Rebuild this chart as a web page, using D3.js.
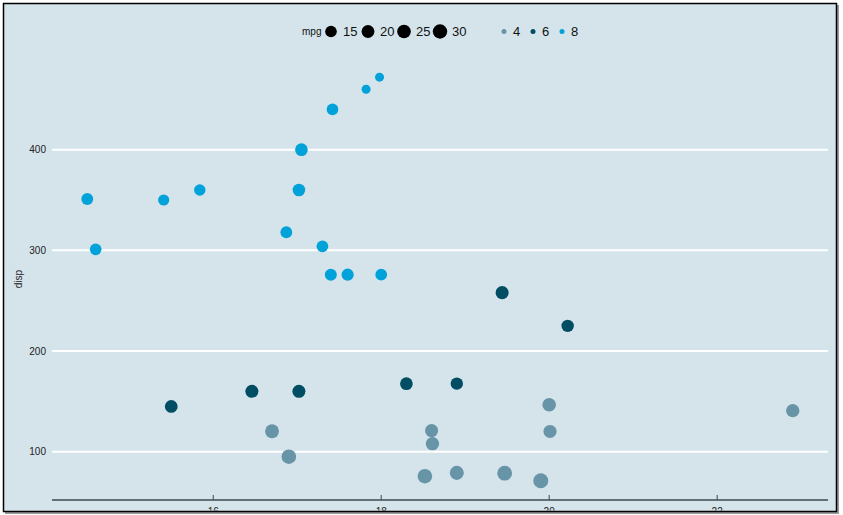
<!DOCTYPE html>
<html><head><meta charset="utf-8">
<script src="https://cdn.jsdelivr.net/npm/d3@7"></script>
<style>body{margin:0;background:#fff;}svg{display:block;font-family:"Liberation Sans",Arial,sans-serif;}</style>
</head><body>
<svg id="c" width="843" height="515"></svg>
<script>
const qsec = [16.46,17.02,18.61,19.44,17.02,20.22,15.84,20.00,22.90,18.30,18.90,17.40,17.60,18.00,17.98,17.82,17.42,19.47,18.52,19.90,20.01,16.87,17.30,15.41,17.05,18.90,16.70,16.90,14.50,15.50,14.60,18.60];
const disp = [160,160,108,258,360,225,360,146.7,140.8,167.6,167.6,275.8,275.8,275.8,472,460,440,78.7,75.7,71.1,120.1,318,304,350,400,79,120.3,95.1,351,145,301,121];
const mpg  = [21.0,21.0,22.8,21.4,18.7,18.1,14.3,24.4,22.8,19.2,17.8,16.4,17.3,15.2,10.4,10.4,14.7,32.4,30.4,33.9,21.5,15.5,15.2,13.3,19.2,27.3,26.0,30.4,15.8,19.7,15.0,21.4];
const cyl  = [6,6,4,6,8,6,8,4,4,6,6,8,8,8,8,8,8,4,4,4,4,8,8,8,8,4,4,4,8,6,8,4];
const xTicks = [16,18,20,22];
const yTicks = [100,200,300,400];
const mpgBreaks = [15,20,25,30];
const cylLevels = [4,6,8];
const cylColors = ["#6794a7","#014d64","#01a2d9"];

const svg = d3.select("#c");
svg.append("rect").attr("x",5).attr("y",5).attr("width",834).attr("height",509).attr("fill","#9a9a9a");
svg.append("rect").attr("x",3.5).attr("y",3.5).attr("width",833).attr("height",508).attr("fill","#d5e4eb").attr("stroke","#000").attr("stroke-width",1.5);
svg.append("clipPath").attr("id","cl").append("rect").attr("x",4.5).attr("y",4.5).attr("width",831).attr("height",506);
const g = svg.append("g").attr("clip-path","url(#cl)");

const xmin=d3.min(qsec), xmax=d3.max(qsec), ymin=d3.min(disp), ymax=d3.max(disp);
const xs = d3.scaleLinear().domain([xmin-0.05*(xmax-xmin), xmax+0.05*(xmax-xmin)]).range([52,828]);
const ys = d3.scaleLinear().domain([ymin-0.05*(ymax-ymin), ymax+0.05*(ymax-ymin)]).range([501,57]);
const mmin=d3.min(mpg), mmax=d3.max(mpg);
const rs = v => 4.5 + 3*Math.sqrt((v-mmin)/(mmax-mmin));
const cs = d3.scaleOrdinal().domain(cylLevels).range(cylColors);

g.selectAll("line.grid").data(yTicks).enter().append("line")
 .attr("x1",52).attr("x2",828).attr("y1",d=>ys(d)).attr("y2",d=>ys(d))
 .attr("stroke","#fff").attr("stroke-width",2);
g.selectAll("text.yl").data(yTicks).enter().append("text")
 .attr("x",46).attr("y",d=>ys(d)).attr("dy","0.35em").attr("text-anchor","end")
 .attr("font-size",10).attr("fill","#222").text(d=>d);
g.append("text").attr("transform","translate(22,279) rotate(-90)").attr("text-anchor","middle")
 .attr("font-size",10).attr("fill","#222").text("disp");

const xa = g.append("g").attr("transform","translate(0,500)");
xa.append("line").attr("x1",52).attr("x2",828).attr("stroke","#3a4a50").attr("stroke-width",1.3);
xa.selectAll("line.t").data(xTicks).enter().append("line")
 .attr("x1",d=>xs(d)).attr("x2",d=>xs(d)).attr("y1",-5).attr("y2",0).attr("stroke","#3a4a50").attr("stroke-width",1);
xa.selectAll("text").data(xTicks).enter().append("text")
 .attr("x",d=>xs(d)).attr("y",15).attr("text-anchor","middle").attr("font-size",10).attr("fill","#222").text(d=>d);

const idx = d3.range(qsec.length);
g.selectAll("circle.p").data(idx).enter().append("circle")
 .attr("cx",i=>xs(qsec[i])).attr("cy",i=>ys(disp[i])).attr("r",i=>rs(mpg[i]))
 .attr("fill",i=>cs(cyl[i]));

const ly = 31.5;
g.append("text").attr("x",302).attr("y",ly).attr("dy","0.35em").attr("font-size",10).attr("fill","#111").text("mpg");
const mx = [331,368,404,440];
mpgBreaks.forEach((b,k)=>{
  g.append("circle").attr("cx",mx[k]).attr("cy",ly).attr("r",rs(b)).attr("fill","#000");
  g.append("text").attr("x",mx[k]+12).attr("y",ly).attr("dy","0.35em").attr("font-size",13).attr("fill","#111").text(b);
});
const cx = [504,533,562];
cylLevels.forEach((c,k)=>{
  g.append("circle").attr("cx",cx[k]).attr("cy",ly).attr("r",2.5).attr("fill",cs(c));
  g.append("text").attr("x",cx[k]+9).attr("y",ly).attr("dy","0.35em").attr("font-size",13).attr("fill","#111").text(c);
});
</script>
</body></html>
